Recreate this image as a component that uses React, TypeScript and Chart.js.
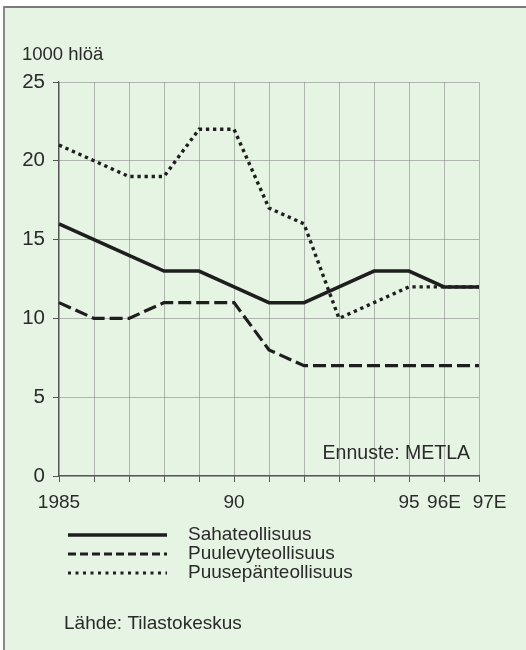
import React, { useEffect, useRef } from "react";
import { Chart, registerables } from "chart.js";

Chart.register(...registerables);

const years = ["1985","1986","1987","1988","1989","1990","1991","1992","1993","1994","1995","1996","1997"];
const xTickLabels = ["1985","","","","","90","","","","","95","96E","    97E"];
const sahateollisuus = [16,15,14,13,13,12,11,11,12,13,13,12,12];
const puulevyteollisuus = [11,10,10,11,11,11,8,7,7,7,7,7,7];
const puusepanteollisuus = [21,20,19,19,22,22,17,16,10,11,12,12,12];
const seriesNames = ["Sahateollisuus","Puulevyteollisuus","Puusepänteollisuus"];
const yTicks = [0,5,10,15,20,25];

const FONT = "'Liberation Sans', Arial, sans-serif";
const TEXT = "#2a2a2a";
const LINE = "#1e1e1e";

const legendDashes = [[], [8, 4], [3, 4.5]];

const overlayPlugin = {
  id: "overlay",
  afterDraw(chart: any) {
    const ctx = chart.ctx;
    const area = chart.chartArea;
    ctx.save();
    ctx.fillStyle = TEXT;
    ctx.font = `18.5px ${FONT}`;
    ctx.textBaseline = "middle";
    ctx.textAlign = "left";
    ctx.fillText("1000 hlöä", 22, 55);
    ctx.font = `19.5px ${FONT}`;
    ctx.textAlign = "right";
    ctx.fillText("Ennuste: METLA", area.right - 9, area.bottom - 22);
    ctx.font = `19px ${FONT}`;
    ctx.textAlign = "left";
    ctx.fillText("Lähde: Tilastokeskus", 64, 624);
    // legend
    chart.data.datasets.forEach((ds: any, i: number) => {
      const y = 535 + i * 19;
      ctx.beginPath();
      ctx.strokeStyle = LINE;
      ctx.lineWidth = i === 0 ? 3.5 : 3;
      ctx.setLineDash(legendDashes[i]);
      ctx.lineCap = "butt";
      ctx.moveTo(68, y);
      ctx.lineTo(167, y);
      ctx.stroke();
      ctx.setLineDash([]);
      ctx.fillStyle = TEXT;
      ctx.fillText(ds.label, 188, y);
    });
    ctx.restore();
  },
};

export default function App() {
  const ref = useRef<HTMLCanvasElement | null>(null);
  useEffect(() => {
    if (!ref.current) return;
    const chart = new Chart(ref.current, {
      type: "line",
      data: {
        labels: years,
        datasets: [
          { label: seriesNames[0], data: sahateollisuus, borderColor: LINE, borderWidth: 3.5, pointRadius: 0, tension: 0, fill: false },
          { label: seriesNames[1], data: puulevyteollisuus, borderColor: LINE, borderWidth: 3.2, borderDash: [13, 5], pointRadius: 0, tension: 0, fill: false },
          { label: seriesNames[2], data: puusepanteollisuus, borderColor: LINE, borderWidth: 3.4, borderDash: [3.3, 3.8], pointRadius: 0, tension: 0, fill: false },
        ],
      },
      options: {
        animation: false,
        responsive: false,
        maintainAspectRatio: false,
        events: [],
        layout: { padding: { top: 82, right: 47, bottom: 0, left: 0 } },
        plugins: { legend: { display: false }, tooltip: { enabled: false }, title: { display: false } },
        scales: {
          x: {
            type: "category",
            offset: false,
            afterFit: (s: any) => { s.height = 174; },
            border: { display: true, color: "#555", width: 1.2 },
            grid: { color: "rgba(120,120,120,0.5)", lineWidth: 1, tickLength: 6, tickColor: "#555", drawOnChartArea: true },
            ticks: {
              autoSkip: false,
              maxRotation: 0,
              minRotation: 0,
              padding: 9,
              color: TEXT,
              font: { family: FONT, size: 19 },
              callback: (_v: any, i: number) => xTickLabels[i],
            },
          },
          y: {
            min: 0,
            max: 25,
            afterFit: (s: any) => { s.width = 59; },
            afterBuildTicks: (s: any) => { s.ticks = yTicks.map((v) => ({ value: v })); },
            border: { display: true, color: "#555", width: 1.2 },
            grid: { color: "rgba(120,120,120,0.5)", lineWidth: 1, tickLength: 6, tickColor: "#555" },
            ticks: {
              padding: 8,
              color: TEXT,
              font: { family: FONT, size: 20.5 },
            },
          },
        },
      },
      plugins: [overlayPlugin],
    } as any);
    return () => chart.destroy();
  }, []);

  return (
    <div style={{ position: "absolute", left: 0, top: 0, width: 526, height: 650, background: "#ffffff", overflow: "hidden" }}>
      <div
        style={{
          position: "absolute",
          left: 3,
          top: 6,
          right: 0,
          bottom: 0,
          background: "rgb(230,245,227)",
          borderLeft: "2px solid #8a8a8a",
          borderTop: "2px solid #7a7a7a",
        }}
      />
      <canvas ref={ref} width={526} height={650} style={{ position: "absolute", left: 0, top: 0, width: 526, height: 650 }} />
    </div>
  );
}
